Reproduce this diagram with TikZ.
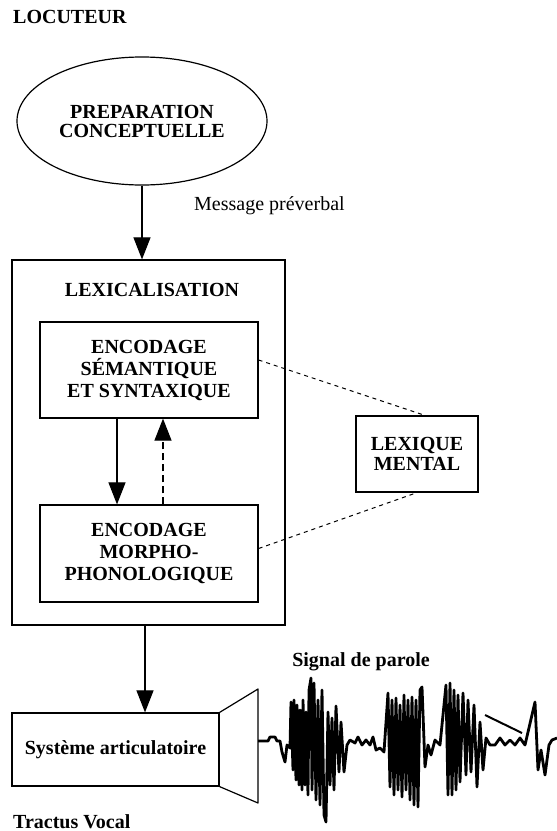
\documentclass[tikz,border=0pt]{standalone}
\usepackage{fontspec}
\setmainfont{Liberation Serif}
\usetikzlibrary{arrows.meta,shapes.geometric}

\newcommand{\grand}{\fontsize{20}{22}\selectfont}

\begin{document}
\begin{tikzpicture}[x=1pt, y=-1pt,
        boite/.style={draw, line width=1.2pt, align=center, inner sep=0pt, font=\grand\bfseries},
        fleche/.style={-{Triangle[width=17pt,length=22pt]}, line width=1.1pt},
        lien/.style={line width=1pt, dash pattern=on 4pt off 4pt},
        titre/.style={font=\grand\bfseries, inner sep=0pt}]
    \useasboundingbox (0,0) rectangle (557,831);

    \node[titre, anchor=base west] (locuteur) at (13,23) {LOCUTEUR};

    \node[boite, ellipse, minimum width=250pt, minimum height=128pt,
        font=\fontsize{20}{19}\selectfont\bfseries] (prep) at (142,121) {PREPARATION\\CONCEPTUELLE};

    \node[anchor=base west, inner sep=0pt, font=\grand] (message) at (194,210) {Message préverbal};

    % bloc de lexicalisation
    \node[draw, line width=1.2pt, minimum width=273pt, minimum height=365pt, inner sep=0pt] (lexbox) at (148.5,442.5) {};
    \node[titre] (lexical) at (152,290) {LEXICALISATION};
    \node[boite, minimum width=218pt, minimum height=96pt] (semsyn) at (149,370) {ENCODAGE\\SÉMANTIQUE\\ET SYNTAXIQUE};
    \node[boite, minimum width=218pt, minimum height=97pt] (morpho) at (149,553.5) {ENCODAGE\\MORPHO-\\PHONOLOGIQUE};
    \node[boite, minimum width=122pt, minimum height=76pt,
        font=\fontsize{20}{20}\selectfont\bfseries] (lexique) at (417,454) {LEXIQUE\\MENTAL};

    \draw[fleche] (prep.south) -- (prep.south |- lexbox.north);
    \draw[fleche] ([xshift=-32pt]semsyn.south) -- ([xshift=-32pt]morpho.north);
    \draw[fleche, dash pattern=on 7pt off 4pt] ([xshift=14pt]morpho.north) -- ([xshift=14pt]semsyn.south);
    \draw[lien] ([yshift=10pt]semsyn.east) -- ([xshift=8pt]lexique.north);
    \draw[lien] ([yshift=5pt]morpho.east) -- (lexique.south);

    % conduit vocal
    \node[boite, minimum width=207pt, minimum height=73pt] (sys) at (115.5,749.5) {Système articulatoire};
    \coordinate (sortie) at ([xshift=-3.5pt]lexbox.south);
    \draw[fleche] (sortie) -- (sortie |- sys.north);
    \draw[line width=1.2pt, line join=round] (sys.north east) -- (258,689) -- (258,803) -- (sys.south east);

    \node[titre, anchor=base west] (tractus) at (13,828) {Tractus Vocal};
    \node[titre] (signal) at (361,662) {Signal de parole};

    % signal de parole
    \draw[line width=2.8pt, line join=round] plot coordinates {
        (258,741) (268,741) (270,737) (275,737) (277,741) (280,741) (282,752) (285,762) (287,745) (290,748)
        (291,702) (293,770) (294,700) (296,780) (297,705) (299,785) (300,710) (302,790) (303,700) (305,785)
        (306,712) (308,795) (309,690) (311,678) (312,790) (314,683) (316,800) (318,700) (320,805) (322,690)
        (324,815) (326,822) (328,712) (330,785) (332,718) (334,790) (336,706) (339,772) (341,722) (344,772)
        (347,745) (350,740)
        (355,743) (358,737) (362,745) (366,740) (370,745) (373,737) (376,750) (380,748) (384,752)
        (388,693) (390,787) (392,700) (394,795) (396,698) (398,790) (400,705) (402,797) (404,695) (406,790)
        (408,700) (410,800) (412,697) (414,805) (416,700) (418,807) (420,690) (422,687) (425,767) (428,745)
        (431,755) (435,740) (440,745)
        (446,685) (448,795) (450,683) (452,795) (454,690) (456,790) (458,695) (460,782) (463,693) (466,775)
        (468,700) (471,772) (474,705) (477,787) (480,722) (483,770) (486,738) (490,745)
        (495,745) (500,738) (505,745) (510,740) (515,745) (520,738) (525,745)
        (535,702) (538,770) (541,750) (545,775) (549,745) (552,740) (557,738)};
    \draw[line width=2pt] (485,715) -- (522,733);
\end{tikzpicture}
\end{document}
